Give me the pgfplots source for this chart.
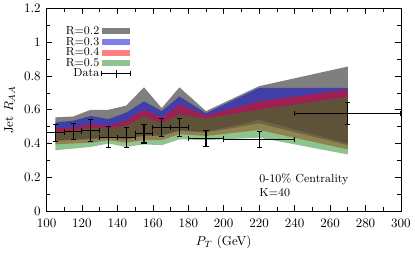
\documentclass[border=0pt]{standalone}
\usepackage{pgfplots}
\pgfplotsset{compat=1.18}
\definecolor{cgray}{RGB}{0,0,0}
\definecolor{cblue}{RGB}{0,0,208}
\definecolor{cred}{RGB}{255,0,0}
\definecolor{cgreen}{RGB}{32,136,32}
\begin{document}
\begin{tikzpicture}
\begin{axis}[
  scale only axis,
  width=273pt, height=156pt,
  xmin=100, xmax=300, ymin=0, ymax=1.2,
  xtick={100,120,...,300},
  ytick={0,0.2,...,1.2},
  minor x tick num=1, minor y tick num=1,
  xlabel={$P_T$ (GeV)},
  ylabel={Jet $R_{AA}$},
  xticklabel style={yshift=-2.5pt},
  yticklabel style={xshift=-1pt},
  axis line style={line width=0.6pt},
  tick style={line width=0.5pt, black},
  legend plot pos=right,
  legend cell align=right,
  legend style={draw=none, fill=none, font=\small, at={(0.25,0.935)}, anchor=north east,
    row sep=-2.5pt, nodes={inner sep=1.5pt}},
]
% R=0.2
\addplot[draw=none, fill=cgray, fill opacity=0.5,
  legend image code/.code={\fill[cgray, fill opacity=0.5] (0pt,-2.3pt) rectangle (22pt,2.3pt);}]
 coordinates {(105,0.555) (115,0.56) (125,0.60) (135,0.60) (145,0.625) (155,0.733) (165,0.61) (175,0.733) (190,0.592) (220,0.74) (270,0.856)
  (270,0.40) (220,0.54) (190,0.47) (175,0.48) (165,0.45) (155,0.45) (145,0.43) (135,0.44) (125,0.43) (115,0.425) (105,0.42)} -- cycle;
\addlegendentry{R=0.2}
% R=0.3
\addplot[draw=none, fill=cblue, fill opacity=0.5,
  legend image code/.code={\fill[cblue, fill opacity=0.5] (0pt,-2.3pt) rectangle (22pt,2.3pt);}]
 coordinates {(105,0.525) (115,0.535) (125,0.563) (135,0.545) (145,0.583) (155,0.65) (165,0.592) (175,0.679) (190,0.58) (220,0.73) (270,0.73)
  (270,0.39) (220,0.52) (190,0.465) (175,0.475) (165,0.445) (155,0.445) (145,0.425) (135,0.435) (125,0.425) (115,0.42) (105,0.415)} -- cycle;
\addlegendentry{R=0.3}
% R=0.4
\addplot[draw=none, fill=cred, fill opacity=0.5,
  legend image code/.code={\fill[cred, fill opacity=0.5] (0pt,-2.3pt) rectangle (22pt,2.3pt);}]
 coordinates {(105,0.49) (115,0.495) (125,0.515) (135,0.505) (145,0.535) (155,0.60) (165,0.554) (175,0.63) (190,0.567) (220,0.65) (270,0.72)
  (270,0.365) (220,0.48) (190,0.445) (175,0.455) (165,0.42) (155,0.42) (145,0.405) (135,0.42) (125,0.405) (115,0.40) (105,0.395)} -- cycle;
\addlegendentry{R=0.4}
% R=0.5
\addplot[draw=none, fill=cgreen, fill opacity=0.5,
  legend image code/.code={\fill[cgreen, fill opacity=0.5] (0pt,-2.3pt) rectangle (22pt,2.3pt);}]
 coordinates {(105,0.467) (115,0.477) (125,0.492) (135,0.49) (145,0.505) (155,0.56) (165,0.52) (175,0.575) (190,0.548) (220,0.60) (270,0.677)
  (270,0.335) (220,0.435) (190,0.42) (175,0.425) (165,0.39) (155,0.395) (145,0.38) (135,0.40) (125,0.38) (115,0.37) (105,0.36)} -- cycle;
\addlegendentry{R=0.5}
% Data
\addplot[draw=none, mark=none,
  error bars/.cd, x dir=both, x explicit, y dir=both, y explicit,
  error bar style={draw=black, line width=0.9pt},
  error mark options={rotate=90, mark size=2pt, line width=0.8pt, draw=black},
  ] [legend image code/.code={
    \draw[black, line width=0.9pt] (0pt,0pt) -- (22pt,0pt);
    \draw[black, line width=0.8pt] (0pt,-2pt) -- (0pt,2pt);
    \draw[black, line width=0.8pt] (22pt,-2pt) -- (22pt,2pt);
    \draw[black, line width=0.9pt] (11pt,-3pt) -- (11pt,3pt);}]
 coordinates {
  (105,0.463) +- (5,0.05)
  (115,0.471) +- (5,0.05)
  (125,0.477) +- (5,0.065)
  (135,0.438) +- (5,0.063)
  (145,0.434) +- (5,0.06)
  (155,0.458) +- (5,0.055)
  (165,0.496) +- (5,0.053)
  (175,0.496) +- (5,0.055)
  (190,0.431) +- (10,0.046)
  (220,0.423) +- (20,0.046)
  (270,0.579) +- (30,0.064)
 };
\addlegendentry{Data}
\node[anchor=west, font=\small, inner sep=0pt] at (axis cs:220,0.186) {0-10\% Centrality};
\node[anchor=west, font=\small, inner sep=0pt] at (axis cs:220,0.106) {K=40};
\end{axis}
\end{tikzpicture}
\end{document}
